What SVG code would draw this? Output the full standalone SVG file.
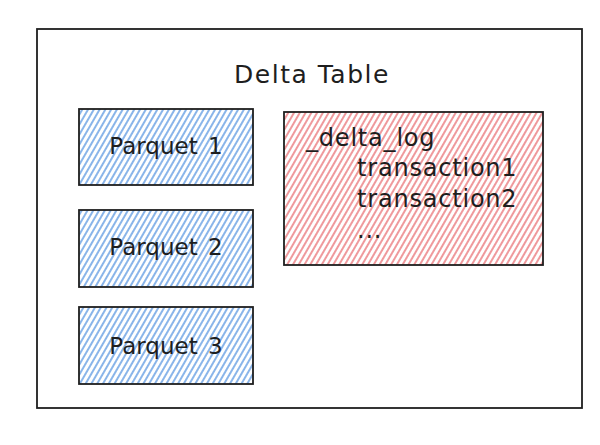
<svg xmlns="http://www.w3.org/2000/svg" width="600" height="445" viewBox="0 0 600 445">
<defs>
<pattern id="hb" patternUnits="userSpaceOnUse" width="5" height="5" patternTransform="rotate(30)">
<line x1="1" y1="0" x2="1" y2="5" stroke="#3a82db" stroke-width="1.2"/>
</pattern>
<pattern id="hr" patternUnits="userSpaceOnUse" width="5" height="5" patternTransform="rotate(30)">
<line x1="1" y1="0" x2="1" y2="5" stroke="#e2454a" stroke-width="1.1"/>
</pattern>
</defs>
<style>
.box{stroke:#1e1e1e;stroke-width:1.8}
.t{font-family:"DejaVu Sans","Liberation Sans",sans-serif;fill:#1e1e1e}
</style>
<rect width="600" height="445" fill="#ffffff"/>
<g id="delta-table">
<rect class="box" x="37" y="29" width="545" height="379" fill="none"/>
<text class="t" x="312" y="83" font-size="25" text-anchor="middle" letter-spacing="1.5">Delta Table</text>
</g>
<g id="parquet1">
<rect class="box" x="79" y="109" width="174" height="76" fill="url(#hb)"/>
<text class="t" x="166" y="154" font-size="23" text-anchor="middle" word-spacing="3">Parquet 1</text>
</g>
<g id="parquet2">
<rect class="box" x="79" y="210" width="174" height="77" fill="url(#hb)"/>
<text class="t" x="166" y="255" font-size="23" text-anchor="middle" word-spacing="3">Parquet 2</text>
</g>
<g id="parquet3">
<rect class="box" x="79" y="307" width="174" height="77" fill="url(#hb)"/>
<text class="t" x="166" y="354" font-size="23" text-anchor="middle" word-spacing="3">Parquet 3</text>
</g>
<g id="delta-log">
<rect class="box" x="284" y="112" width="259" height="153" fill="url(#hr)"/>
<text class="t" font-size="24" letter-spacing="0.8">
<tspan x="306" y="146">_delta_log</tspan>
<tspan x="357" y="176">transaction1</tspan>
<tspan x="357" y="207">transaction2</tspan>
<tspan x="357" y="238">...</tspan>
</text>
</g>
<g id="connectors"></g>
</svg>
